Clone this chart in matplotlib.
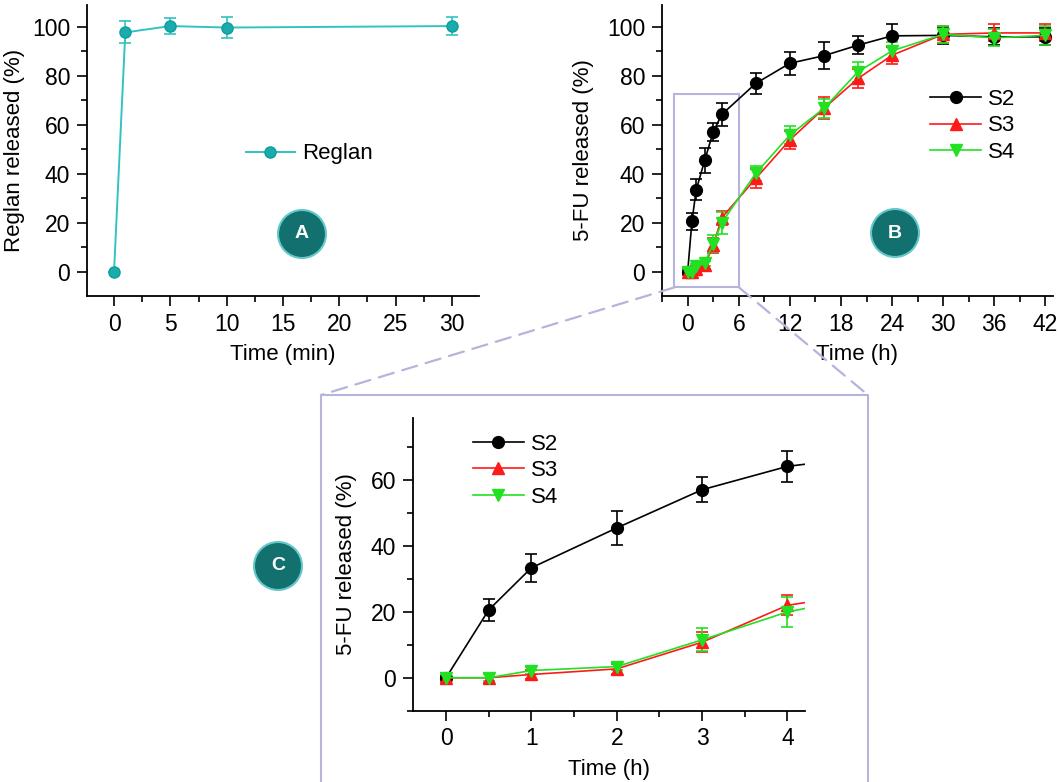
import matplotlib
matplotlib.use("Agg")
import matplotlib.pyplot as plt
from matplotlib.patches import Rectangle, Ellipse, ConnectionPatch
from matplotlib.ticker import MultipleLocator

plt.rcParams['font.family'] = ['Liberation Sans', 'DejaVu Sans']

# ---------------- data ----------------
reglan_t = [0, 1, 5, 10, 30]
reglan_y = [0, 97.7, 100.3, 99.7, 100.3]
reglan_err = [0, 4.5, 3.2, 4.2, 3.5]

fu_t = [0, 0.5, 1, 2, 3, 4, 8, 12, 16, 20, 24, 30, 36, 42]
s2_y = [0, 20.6, 33.4, 45.5, 57.1, 64.2, 76.9, 85.1, 88.2, 92.5, 96.3, 96.5, 95.9, 95.9]
s2_err = [0.5, 3.4, 4.3, 5.2, 3.8, 4.7, 4.3, 4.8, 5.6, 3.8, 4.7, 3.5, 3.5, 3.5]
s3_y = [0, 0, 1.0, 2.7, 10.8, 22.0, 38.1, 53.8, 66.7, 78.9, 88.4, 96.9, 97.5, 97.5]
s3_err = [1.5, 1.5, 1.5, 1.5, 3.0, 3.0, 4.0, 3.5, 4.5, 4.0, 3.5, 3.5, 3.5, 3.5]
s4_y = [0, 0, 2.2, 3.4, 11.5, 20.0, 40.2, 55.8, 66.7, 81.6, 90.2, 96.9, 95.5, 96.5]
s4_err = [1.0, 1.0, 1.0, 1.0, 3.5, 4.5, 3.0, 3.5, 4.0, 4.0, 3.5, 3.5, 3.5, 4.0]

series_names = ['S2', 'S3', 'S4']
panel_letters = ['A', 'B', 'C']

# ---------------- style ----------------
W, H = 1059, 782
FS = 16
TFS = 16.5
teal_line = '#33c2c2'
teal_mark = '#1aacac'
lav = '#b4b4dc'
circ_face = '#12706e'
circ_edge = '#66c9c9'

fig = plt.figure(figsize=(W / 100, H / 100), dpi=100)

axA = fig.add_axes([87 / W, 1 - 296 / H, 392 / W, 291 / H])
axB = fig.add_axes([661.7 / W, 1 - 296 / H, 391.3 / W, 291 / H])
axC = fig.add_axes([413 / W, 1 - 710.7 / H, 391.5 / W, 292.4 / H])


def style(ax):
    for s in ('top', 'right'):
        ax.spines[s].set_visible(False)
    for s in ('left', 'bottom'):
        ax.spines[s].set_linewidth(1.3)
    ax.tick_params(which='major', direction='out', length=7, width=1.2,
                   labelsize=TFS, pad=5)
    ax.tick_params(which='minor', direction='out', length=4, width=1.2)


# ---------------- panel A ----------------
style(axA)
axA.errorbar(reglan_t, reglan_y, yerr=reglan_err, fmt='none', ecolor=teal_line,
             elinewidth=1.2, capsize=4, capthick=1.2, zorder=2)
axA.plot(reglan_t, reglan_y, '-o', color=teal_line, lw=1.4, ms=8,
         mfc=teal_mark, mec='#0f9c9c', label='Reglan', zorder=3)
axA.set_xlim(-2.4, 32.4)
axA.set_ylim(-9.9, 108.9)
axA.xaxis.set_major_locator(MultipleLocator(5))
axA.xaxis.set_minor_locator(MultipleLocator(2.5))
axA.yaxis.set_major_locator(MultipleLocator(20))
axA.yaxis.set_minor_locator(MultipleLocator(10))
axA.set_xlabel('Time (min)', fontsize=FS, labelpad=6)
axA.set_ylabel('Reglan released (%)', fontsize=FS, labelpad=5)
axA.legend(loc='center left', bbox_to_anchor=(0.405, 0.488), frameon=False,
           fontsize=FS, handlelength=2.2, handletextpad=0.35, borderpad=0,
           borderaxespad=0)

# ---------------- panels B and C ----------------
colors = ['black', '#ff1a1a', '#22e022']
markers = ['o', '^', 'v']
ys = [s2_y, s3_y, s4_y]
errs = [s2_err, s3_err, s4_err]

for ax in (axB, axC):
    style(ax)
    for name, y, e, c, m in zip(series_names, ys, errs, colors, markers):
        ax.errorbar(fu_t, y, yerr=e, fmt='none', ecolor=c, elinewidth=1.2,
                    capsize=4, capthick=1.2, zorder=2)
        ax.plot(fu_t, y, '-', marker=m, color=c, lw=1.2, ms=8.5 if m == 'o' else 9,
                label=name, zorder=3)
    ax.yaxis.set_major_locator(MultipleLocator(20))
    ax.yaxis.set_minor_locator(MultipleLocator(10))
    ax.set_xlabel('Time (h)', fontsize=FS, labelpad=6)

axB.set_xlim(-3.05, 42.9)
axB.set_ylim(-9.9, 108.9)
axB.xaxis.set_major_locator(MultipleLocator(6))
axB.xaxis.set_minor_locator(MultipleLocator(3))
axB.set_ylabel('5-FU released (%)', fontsize=FS, labelpad=9)
axB.legend(loc='upper left', bbox_to_anchor=(0.686, 0.712), frameon=False,
           fontsize=FS, handlelength=2.3, handletextpad=0.3, borderpad=0,
           borderaxespad=0, labelspacing=0.25)

axC.set_xlim(-0.387, 4.2)
axC.set_ylim(-10, 78.8)
axC.xaxis.set_major_locator(MultipleLocator(1))
axC.xaxis.set_minor_locator(MultipleLocator(0.5))
axC.set_ylabel('5-FU released (%)', fontsize=FS, labelpad=10)
axC.legend(loc='upper left', bbox_to_anchor=(0.153, 0.948), frameon=False,
           fontsize=FS, handlelength=2.3, handletextpad=0.3, borderpad=0,
           borderaxespad=0, labelspacing=0.25)

# ---------------- zoom box & connectors ----------------
axB.add_patch(Rectangle((-1.57, -6.4), 7.59, 78.8, fill=False, edgecolor=lav,
                        lw=1.5, clip_on=False, zorder=1))
boxL, boxR, boxT = 321 / W, 868 / W, 1 - 395 / H
fig.add_artist(plt.Line2D([boxL, boxL, boxR, boxR], [-0.05, boxT, boxT, -0.05],
                          transform=fig.transFigure, color=lav, lw=1.5))
for xa, xb in ((-1.57, boxL), (6.02, boxR)):
    cp = ConnectionPatch(xyA=(xa, -6.4), coordsA='data', axesA=axB,
                         xyB=(xb, boxT), coordsB='figure fraction',
                         color=lav, lw=1.6, linestyle=(0, (7, 4)))
    fig.add_artist(cp)

# ---------------- panel letter badges ----------------
badge_pos = [(302, 234), (895, 233), (278, 566)]
for letter, (px, py) in zip(panel_letters, badge_pos):
    cx, cy = px / W, 1 - py / H
    fig.add_artist(Ellipse((cx, cy), 48 / W, 48 / H, transform=fig.transFigure,
                           facecolor=circ_face, edgecolor=circ_edge, lw=1.5))
    fig.text(cx, cy, letter, color='white', fontsize=14, fontweight='bold',
             ha='center', va='center')

fig.savefig('out.png', dpi=100)
